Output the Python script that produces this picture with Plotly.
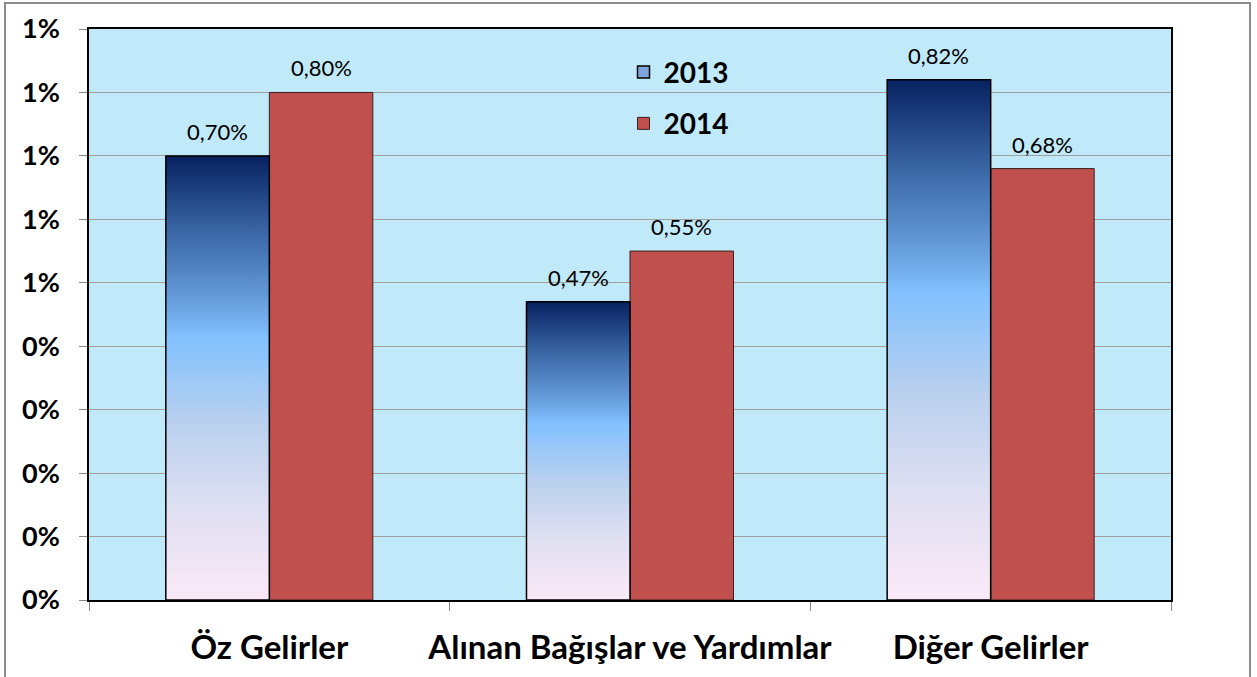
import plotly.graph_objects as go

categories = ["Öz Gelirler", "Alınan Bağışlar ve Yardımlar", "Diğer Gelirler"]
values_2013 = [0.0070, 0.0047, 0.0082]
values_2014 = [0.0080, 0.0055, 0.0068]
labels_2013 = ["0,70%", "0,47%", "0,82%"]
labels_2014 = ["0,80%", "0,55%", "0,68%"]
series_names = ["2013", "2014"]

W = 0.287  # bar width in category units
FONT = "Lato, 'Open Sans', sans-serif"
grad = [[0.0, "#fbe9f7"], [0.2, "#e0e0f2"], [0.4, "#b9d0ee"], [0.59, "#82c1ff"],
        [0.7, "#5f93d1"], [0.82, "#3d6aa8"], [1.0, "#072160"]]

fig = go.Figure()
xs = list(range(len(categories)))

for i, v in zip(xs, values_2013):
    fig.add_trace(go.Scatter(
        x=[i - W, i - W, i, i, i - W],
        y=[0, v, v, 0, 0],
        mode="lines", fill="toself",
        line=dict(color="#000000", width=1.5),
        fillgradient=dict(type="vertical", colorscale=grad, start=0, stop=v),
        showlegend=False, hoverinfo="skip",
    ))

# legend entry for 2013
fig.add_trace(go.Bar(
    x=[None], y=[None], name=series_names[0], legendgroup="a",
    marker=dict(color="#7fa6dc", line=dict(color="#000", width=1.5)),
))

fig.add_trace(go.Bar(
    x=[i + W / 2 for i in xs], y=values_2014, width=W,
    marker=dict(color="#c0504d", line=dict(color="#3a2020", width=1)),
    name=series_names[1], legendgroup="b",
))

for i, v, t in zip(xs, values_2013, labels_2013):
    fig.add_annotation(x=i - W / 2, y=v, text=t, showarrow=False, yanchor="bottom",
                       yshift=9, font=dict(family=FONT, size=22, color="#000"))
for i, v, t in zip(xs, values_2014, labels_2014):
    fig.add_annotation(x=i + W / 2, y=v, text=t, showarrow=False, yanchor="bottom",
                       yshift=9, font=dict(family=FONT, size=22, color="#000"))

# outer chart border
fig.add_shape(type="rect", xref="paper", yref="paper",
              x0=(5 - 89) / 1082, x1=(1250 - 89) / 1082,
              y0=(600 - 690) / 571, y1=(600 - 3) / 571,
              line=dict(color="#8c8c8c", width=2), fillcolor="rgba(0,0,0,0)", layer="below")

fig.update_layout(
    width=1257, height=677,
    margin=dict(l=89, r=86, t=29, b=77, autoexpand=False),
    paper_bgcolor="white", plot_bgcolor="#c0eaf9",
    separators=",.",
    showlegend=True,
    legend=dict(x=0.494, y=0.968, xanchor="left", yanchor="top",
                bgcolor="rgba(0,0,0,0)", tracegroupgap=12,
                font=dict(family=FONT, size=28, color="#000", weight="bold"),
                itemwidth=30),
    font=dict(family=FONT),
    xaxis=dict(
        range=[-0.5, 2.5], tickvals=xs, ticktext=categories, ticks="",
        tickfont=dict(family=FONT, size=33, color="#000", weight="bold"),
        ticklabelstandoff=18, automargin=False,
        showgrid=False, zeroline=False,
        showline=True, mirror=True, linecolor="#000", linewidth=1.5,
        minor=dict(tickmode="linear", tick0=-0.5, dtick=1, ticks="outside",
                   ticklen=9, tickcolor="#888", tickwidth=1, showgrid=False),
    ),
    yaxis=dict(
        range=[0, 0.009], dtick=0.001, tickformat=".0%",
        tickfont=dict(family=FONT, size=27, color="#000", weight="bold"),
        ticks="outside", ticklen=8, tickcolor="#888", automargin=False,
        showgrid=True, gridcolor="#a0a0a0", gridwidth=1,
        zeroline=False,
        showline=True, mirror=True, linecolor="#000", linewidth=1.5,
        ticklabelstandoff=14,
    ),
)

fig.write_html("out.html", config={"displayModeBar": False},
               post_script="document.body.style.margin='0px';")
